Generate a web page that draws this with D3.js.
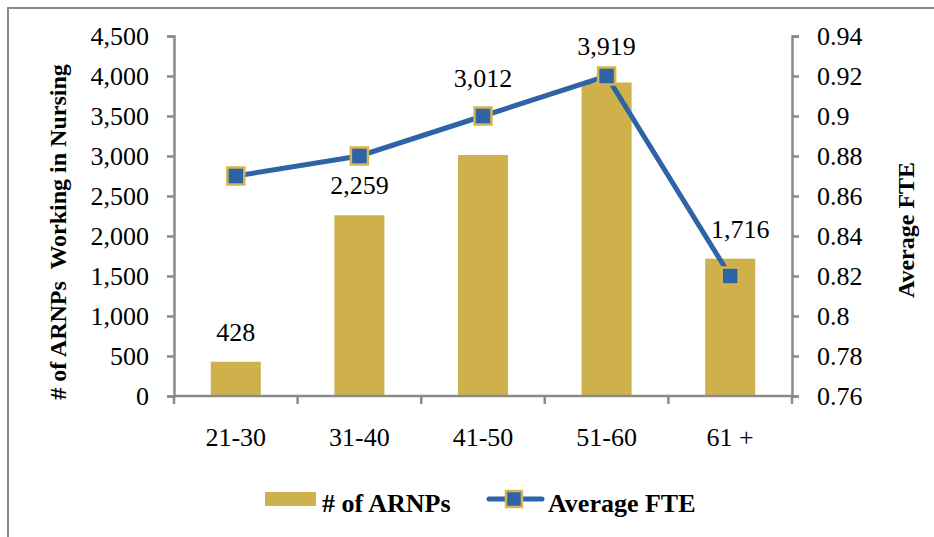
<!DOCTYPE html>
<html>
<head>
<title>ARNPs by age</title>
<script src="https://d3js.org/d3.v7.min.js" charset="utf-8"></script>
<style>
  body { margin: 0; background: #fff; }
  svg text { font-family: "Liberation Serif", "Times New Roman", serif; fill: #000; }
</style>
</head>
<body>
<script>
  // data
  var ageGroups = ["21-30", "31-40", "41-50", "51-60", "61 +"];
  var arnpCounts = [428, 2259, 3012, 3919, 1716];
  var avgFte = [0.87, 0.88, 0.90, 0.92, 0.82];
  var leftTicks = [0, 500, 1000, 1500, 2000, 2500, 3000, 3500, 4000, 4500];
  var rightTicks = [0.76, 0.78, 0.8, 0.82, 0.84, 0.86, 0.88, 0.9, 0.92, 0.94];

  var width = 934, height = 537;
  var barColor = "#CFB14B", lineColor = "#2E63A6", axisColor = "#8A8A8A";
  var plotLeft = 174, plotRight = 792, plotTop = 36, plotBottom = 396;

  var svg = d3.select("body").append("svg")
    .attr("width", width).attr("height", height);

  // outer frame
  svg.append("rect")
    .attr("x", 8).attr("y", 8)
    .attr("width", width + 20).attr("height", height + 20)
    .attr("fill", "none").attr("stroke", axisColor).attr("stroke-width", 2);

  var x = d3.scaleBand().domain(ageGroups).range([plotLeft, plotRight]);
  var yL = d3.scaleLinear().domain([0, 4500]).range([plotBottom, plotTop]);
  var yR = d3.scaleLinear().domain([0.76, 0.94]).range([plotBottom, plotTop]);

  var fmtComma = d3.format(",");
  var fmtR = function(d) { return String(+d.toFixed(2)); };

  // left axis
  var gL = svg.append("g").attr("transform", "translate(" + plotLeft + ",0)")
    .call(d3.axisLeft(yL).tickValues(leftTicks).tickFormat(fmtComma).tickSizeOuter(0).tickSize(7).tickPadding(18));
  // right axis
  var gR = svg.append("g").attr("transform", "translate(" + plotRight + ",0)")
    .call(d3.axisRight(yR).tickValues(rightTicks).tickFormat(fmtR).tickSizeOuter(0).tickSize(7).tickPadding(18));
  [gL, gR].forEach(function(g) {
    g.select(".domain").attr("stroke", axisColor).attr("stroke-width", 2.5);
    g.selectAll(".tick line").attr("stroke", axisColor).attr("stroke-width", 2.5);
    g.selectAll(".tick text").attr("font-size", 26).attr("font-family", "Liberation Serif");
  });

  // bars
  var barW = 50;
  svg.append("g").selectAll("rect")
    .data(arnpCounts)
    .join("rect")
    .attr("x", function(d, i) { return x(ageGroups[i]) + x.bandwidth() / 2 - barW / 2; })
    .attr("y", function(d) { return yL(d); })
    .attr("width", barW)
    .attr("height", function(d) { return plotBottom - yL(d); })
    .attr("fill", barColor);

  // bottom axis
  var gB = svg.append("g").attr("transform", "translate(0," + plotBottom + ")");
  gB.append("line").attr("x1", plotLeft - 1).attr("x2", plotRight + 1)
    .attr("stroke", axisColor).attr("stroke-width", 2.5);
  gB.selectAll("line.tk")
    .data(ageGroups.map(function(d) { return x(d); }).concat([plotRight]))
    .join("line").attr("class", "tk")
    .attr("x1", function(d) { return d; }).attr("x2", function(d) { return d; })
    .attr("y1", 0).attr("y2", 8)
    .attr("stroke", axisColor).attr("stroke-width", 2.5);
  gB.selectAll("text")
    .data(ageGroups)
    .join("text")
    .attr("x", function(d) { return x(d) + x.bandwidth() / 2; })
    .attr("y", 50)
    .attr("text-anchor", "middle")
    .attr("font-size", 26)
    .text(function(d) { return d; });

  // line
  var line = d3.line()
    .x(function(d, i) { return x(ageGroups[i]) + x.bandwidth() / 2; })
    .y(function(d) { return yR(d); });
  svg.append("path").datum(avgFte)
    .attr("d", line)
    .attr("fill", "none").attr("stroke", lineColor).attr("stroke-width", 5);
  var mk = 17;
  svg.append("g").selectAll("rect")
    .data(avgFte)
    .join("rect")
    .attr("x", function(d, i) { return x(ageGroups[i]) + x.bandwidth() / 2 - mk / 2; })
    .attr("y", function(d) { return yR(d) - mk / 2; })
    .attr("width", mk).attr("height", mk)
    .attr("fill", lineColor).attr("stroke", "#D6B44E").attr("stroke-width", 2.5);

  // data labels above bars, pushed above the marker if they would collide
  svg.append("g").selectAll("text")
    .data(arnpCounts)
    .join("text")
    .attr("x", function(d, i) {
      var cx = x(ageGroups[i]) + x.bandwidth() / 2;
      // nudge right when the line comes down from the left onto this label
      return (i > 0 && avgFte[i] < avgFte[i - 1] - 0.05) ? cx + 10 : cx;
    })
    .attr("y", function(d, i) {
      var ly = yL(d) - 30;
      var my = yR(avgFte[i]);
      if (Math.abs(ly - my) < 25) ly = my - (my - ly < 15 ? 38 : 30);
      return ly;
    })
    .attr("dy", "0.35em")
    .attr("text-anchor", "middle")
    .attr("font-size", 26)
    .text(function(d) { return fmtComma(d); });

  // axis titles
  svg.append("text")
    .attr("transform", "translate(66," + ((plotTop + plotBottom) / 2 + 16) + ") rotate(-90)")
    .attr("text-anchor", "middle")
    .attr("font-size", 24).attr("font-weight", "bold")
    .attr("xml:space", "preserve")
    .text("# of ARNPs  Working in Nursing");
  svg.append("text")
    .attr("transform", "translate(914," + ((plotTop + plotBottom) / 2 + 14) + ") rotate(-90)")
    .attr("text-anchor", "middle")
    .attr("font-size", 24).attr("font-weight", "bold")
    .text("Average FTE");

  // legend
  var lg = svg.append("g");
  lg.append("rect").attr("x", 265).attr("y", 492).attr("width", 51).attr("height", 14).attr("fill", barColor);
  lg.append("text").attr("x", 322).attr("y", 512)
    .attr("font-size", 26).attr("font-weight", "bold").text("# of ARNPs");
  lg.append("line").attr("x1", 489).attr("x2", 542).attr("y1", 499).attr("y2", 499)
    .attr("stroke", lineColor).attr("stroke-width", 5).attr("stroke-linecap", "round");
  lg.append("rect").attr("x", 506).attr("y", 491).attr("width", 16).attr("height", 16)
    .attr("fill", lineColor).attr("stroke", "#D6B44E").attr("stroke-width", 2.5);
  lg.append("text").attr("x", 548).attr("y", 512)
    .attr("font-size", 26).attr("font-weight", "bold").text("Average FTE");
</script>
</body>
</html>
